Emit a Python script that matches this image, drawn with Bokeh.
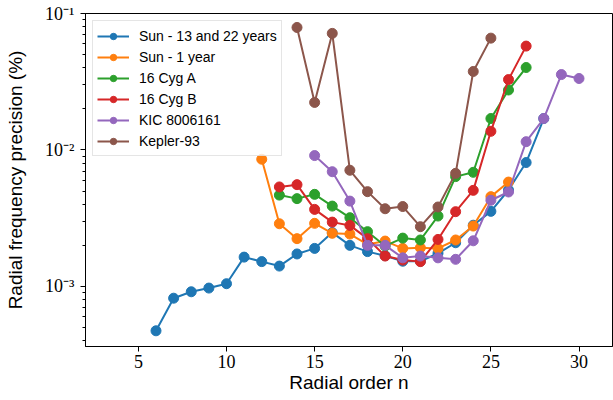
from bokeh.plotting import figure
from bokeh.models import Range1d, FixedTicker, LogTicker, CustomJSTickFormatter
from bokeh.embed import file_html
from bokeh.resources import INLINE

# ---- data ----
n_sun22 = list(range(6, 29))
v_sun22 = [4.73e-4, 8.2e-4, 9.14e-4, 9.73e-4, 1.047e-3, 1.64e-3, 1.52e-3, 1.41e-3,
           1.73e-3, 1.90e-3, 2.48e-3, 2.0e-3, 1.80e-3, 1.68e-3, 1.53e-3, 1.53e-3,
           1.75e-3, 2.09e-3, 2.81e-3, 3.55e-3, 5.09e-3, 8.09e-3, 1.70e-2]

n_sun1 = list(range(12, 27))
v_sun1 = [8.55e-3, 2.88e-3, 2.24e-3, 2.90e-3, 2.45e-3, 2.42e-3, 2.03e-3, 2.15e-3,
          1.90e-3, 1.92e-3, 1.90e-3, 2.19e-3, 2.77e-3, 4.55e-3, 5.82e-3]

n_cyga = list(range(13, 28))
v_cyga = [4.67e-3, 4.40e-3, 4.73e-3, 3.88e-3, 3.19e-3, 2.52e-3, 1.98e-3, 2.26e-3,
          2.19e-3, 3.28e-3, 6.38e-3, 6.86e-3, 1.70e-2, 2.75e-2, 4.02e-2]

n_cygb = list(range(13, 28))
v_cygb = [5.36e-3, 5.57e-3, 3.67e-3, 2.96e-3, 2.80e-3, 2.24e-3, 1.67e-3, 1.56e-3,
          1.52e-3, 2.21e-3, 3.53e-3, 5.06e-3, 1.37e-2, 3.28e-2, 5.77e-2]

n_kic = list(range(15, 31))
v_kic = [9.1e-3, 6.93e-3, 4.22e-3, 2.0e-3, 2.0e-3, 1.62e-3, 1.67e-3, 1.62e-3,
         1.58e-3, 2.16e-3, 4.28e-3, 4.92e-3, 1.15e-2, 1.70e-2, 3.57e-2, 3.34e-2]

n_kep = list(range(14, 26))
v_kep = [7.9e-2, 2.23e-2, 7.15e-2, 7.1e-3, 4.95e-3, 3.71e-3, 3.85e-3, 2.74e-3,
         3.82e-3, 6.74e-3, 3.76e-2, 6.6e-2]

series = [
    ("Sun - 13 and 22 years", n_sun22, v_sun22, "#1f77b4"),
    ("Sun - 1 year", n_sun1, v_sun1, "#ff7f0e"),
    ("16 Cyg A", n_cyga, v_cyga, "#2ca02c"),
    ("16 Cyg B", n_cygb, v_cygb, "#d62728"),
    ("KIC 8006161", n_kic, v_kic, "#9467bd"),
    ("Kepler-93", n_kep, v_kep, "#8c564b"),
]

x_ticks = [5, 10, 15, 20, 25, 30]

p = figure(width=613, height=400, y_axis_type="log", output_backend="svg",
           toolbar_location=None,
           x_range=Range1d(2.0, 31.9), y_range=Range1d(3.63e-4, 0.1),
           min_border_left=85, min_border_top=13, min_border_right=1, min_border_bottom=54)

p.xgrid.visible = False
p.ygrid.visible = False
p.outline_line_color = "black"
p.outline_line_width = 1
p.background_fill_color = "white"
p.border_fill_color = "white"

for label, xs, ys, col in series:
    p.line(xs, ys, line_color=col, line_width=2, legend_label=label)
    p.scatter(xs, ys, size=10, marker="circle", fill_color=col, line_color=col,
              legend_label=label)

p.xaxis.ticker = FixedTicker(ticks=x_ticks, minor_ticks=[])
p.yaxis.ticker = LogTicker(num_minor_ticks=10)
p.yaxis.formatter = CustomJSTickFormatter(code="""
const e = Math.round(Math.log10(tick));
const sup = {'-':'\u207b','0':'\u2070','1':'\u00b9','2':'\u00b2','3':'\u00b3','4':'\u2074','5':'\u2075','6':'\u2076','7':'\u2077','8':'\u2078','9':'\u2079'};
return '10' + String(e).split('').map(c => sup[c]).join('');
""")

for ax in (p.xaxis[0], p.yaxis[0]):
    ax.axis_line_color = "black"
    ax.major_tick_line_color = "black"
    ax.minor_tick_line_color = "black"
    ax.major_tick_out = 5
    ax.major_tick_in = 0
    ax.minor_tick_out = 3
    ax.minor_tick_in = 0
    ax.major_label_text_font = "Liberation Serif"
    ax.major_label_text_font_size = "18px"
    ax.major_label_text_color = "black"
    ax.axis_label_text_font = "Liberation Sans"
    ax.axis_label_text_font_size = "19px"
    ax.axis_label_text_font_style = "normal"
    ax.axis_label_text_color = "black"

p.xaxis.axis_label = "Radial order n"
p.yaxis.axis_label = "Radial frequency precision (%)"
p.xaxis.major_label_standoff = 3
p.yaxis.major_label_standoff = 6
p.xaxis.axis_label_standoff = 1
p.yaxis.axis_label_standoff = 16

lg = p.legend[0]
lg.location = "top_left"
lg.margin = 7
lg.padding = 4
lg.spacing = 0
lg.label_height = 21
lg.glyph_height = 16
lg.glyph_width = 32
lg.label_standoff = 10
lg.label_text_font = "Liberation Sans"
lg.label_text_font_size = "14px"
lg.label_text_color = "black"
lg.border_line_color = "#cccccc"
lg.border_line_width = 1
lg.background_fill_alpha = 0.8

open("out.html", "w").write(file_html(p, INLINE))
